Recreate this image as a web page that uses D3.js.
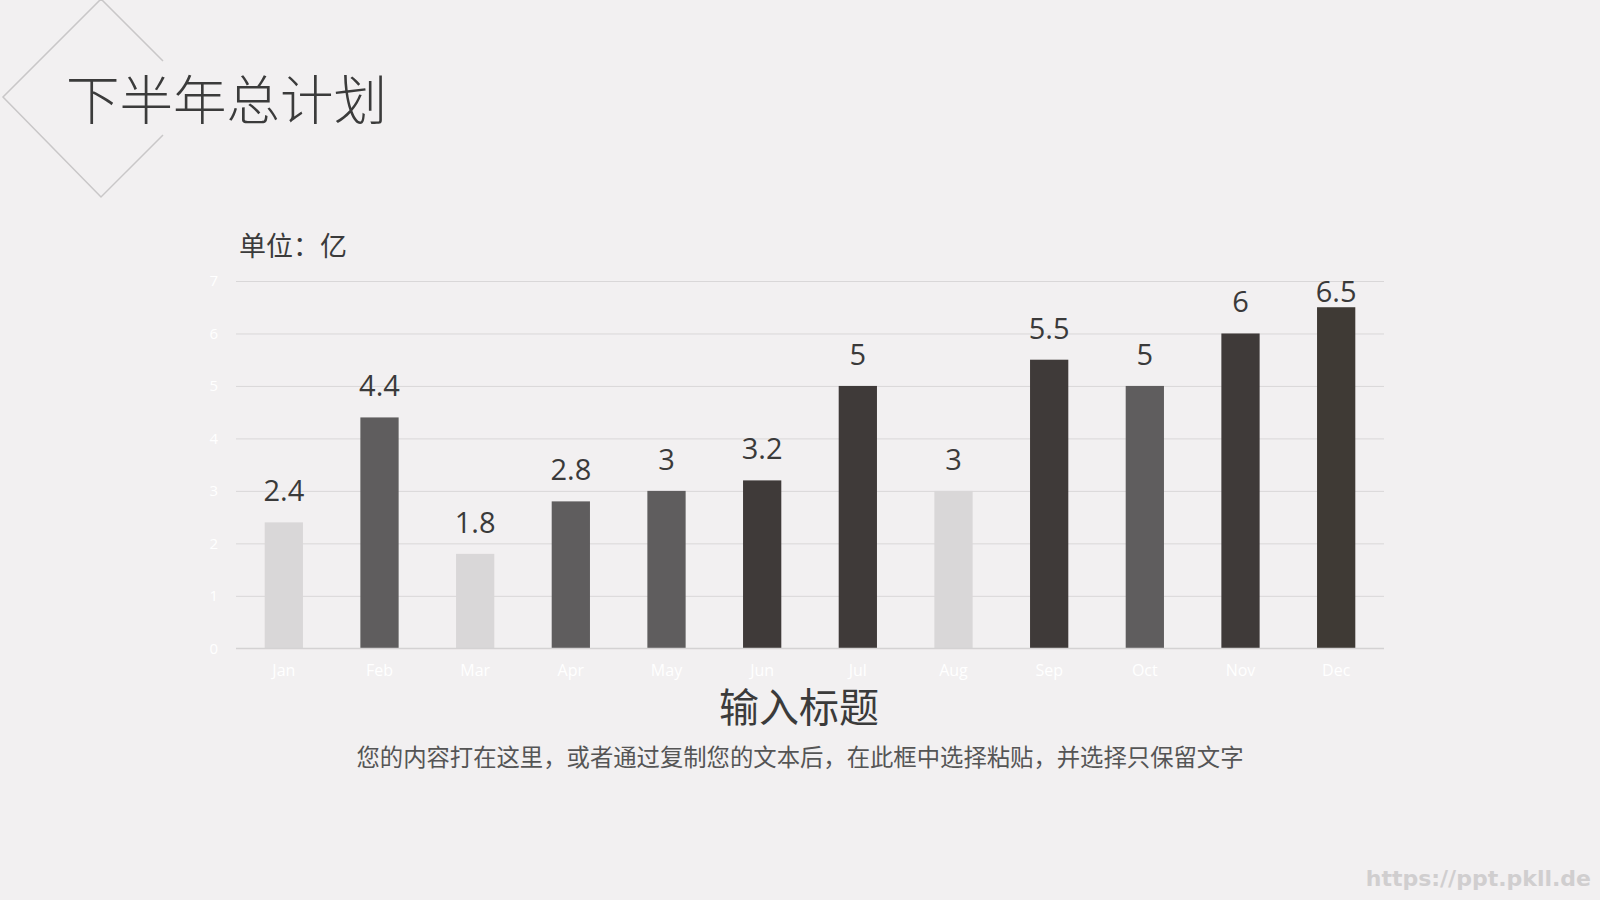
<!DOCTYPE html>
<html>
<head>
<meta charset="utf-8">
<script src="https://cdn.jsdelivr.net/npm/d3@7"></script>
<style>
  html, body { margin: 0; padding: 0; background: #f2f0f1; }
  svg { display: block; }
</style>
</head>
<body>
<svg id="chart" width="1600" height="900"></svg>
<script>
const months = ["Jan","Feb","Mar","Apr","May","Jun","Jul","Aug","Sep","Oct","Nov","Dec"];
const values = [2.4, 4.4, 1.8, 2.8, 3, 3.2, 5, 3, 5.5, 5, 6, 6.5];
const shades = ["light","medium","light","medium","medium","dark","dark","light","dark","medium","dark","darkest"];
const yTicks = [0,1,2,3,4,5,6,7];
const titleText = "下半年总计划";
const unitText = "单位：亿";
const subTitle = "输入标题";
const bodyText = "您的内容打在这里，或者通过复制您的文本后，在此框中选择粘贴，并选择只保留文字";
const watermark = "https://ppt.pkll.de";

const colorMap = { light: "#d9d7d8", medium: "#5f5d5e", dark: "#3f3a39", darkest: "#3f3a35" };
const cjk = "'Noto Sans CJK SC', 'Microsoft YaHei', sans-serif";

const svg = d3.select("#chart");
svg.append("rect").attr("width",1600).attr("height",900).attr("fill","#f2f0f1");

// decorative diamond
svg.append("path")
  .attr("d", d3.line()([[163,61],[101,-1],[3,97],[101,197],[163,135]]))
  .attr("fill","none").attr("stroke","#c9c7c8").attr("stroke-width",1.5);

svg.append("text").text(titleText)
  .attr("x", 66).attr("y", 120)
  .attr("font-family", cjk).attr("font-weight", 300)
  .attr("font-size", 53.5).attr("fill", "#3b3b3b");

const margin = { left: 236, right: 1384, top: 281, bottom: 648.3 };
const x = d3.scaleBand().domain(months).range([margin.left, margin.right]).paddingInner(0.6).paddingOuter(0.3);
const y = d3.scaleLinear().domain([0,7]).range([margin.bottom, margin.top]);

// gridlines
const grid = svg.append("g")
  .attr("transform", `translate(${margin.left},0)`)
  .call(d3.axisLeft(y).tickValues(yTicks).tickSize(-(margin.right - margin.left)).tickFormat(""));
grid.select(".domain").remove();
grid.selectAll(".tick line").attr("stroke", "#d9d7d8").attr("stroke-width", 1);

// y tick labels (white)
const yAxis = svg.append("g")
  .attr("transform", `translate(${margin.left},0)`)
  .call(d3.axisLeft(y).tickValues(yTicks).tickFormat(d3.format("d")).tickSize(0).tickPadding(18));
yAxis.select(".domain").remove();
yAxis.selectAll("text").attr("fill", "#ffffff").attr("font-size", 15)
  .attr("font-family", "'Open Sans', sans-serif");

// bars
svg.append("g").selectAll("rect").data(values).join("rect")
  .attr("x", (d,i) => x(months[i]))
  .attr("width", x.bandwidth())
  .attr("y", d => y(d))
  .attr("height", d => y(0) - y(d))
  .attr("fill", (d,i) => colorMap[shades[i]]);

// baseline
svg.append("line").attr("x1", margin.left).attr("x2", margin.right)
  .attr("y1", y(0)).attr("y2", y(0)).attr("stroke", "#d4d2d3").attr("stroke-width", 1.2);

// value labels (kept inside the plot area, as in the reference)
const labelMinY = y(7) + 21;
svg.append("g").selectAll("text").data(values).join("text")
  .attr("x", (d,i) => x(months[i]) + x.bandwidth()/2)
  .attr("y", d => Math.max(y(d) - 21, labelMinY))
  .attr("text-anchor", "middle")
  .attr("font-family", "'Open Sans', sans-serif")
  .attr("font-size", 29).attr("fill", "#3a3a3a")
  .text(d => d);

// month labels (white)
const xAxis = svg.append("g")
  .attr("transform", `translate(0,${y(0)})`)
  .call(d3.axisBottom(x).tickSize(0).tickPadding(16));
xAxis.select(".domain").remove();
xAxis.selectAll("text").attr("fill", "#ffffff").attr("font-size", 16)
  .attr("font-family", "'Open Sans', sans-serif");

// unit
svg.append("text").text(unitText)
  .attr("x", 239).attr("y", 256)
  .attr("font-family", cjk).attr("font-size", 27).attr("fill", "#3b3b3b");

// subtitle and body
svg.append("text").text(subTitle)
  .attr("x", 799).attr("y", 722).attr("text-anchor", "middle")
  .attr("font-family", cjk).attr("font-size", 40).attr("fill", "#3b3b3b");
svg.append("text").text(bodyText)
  .attr("x", 800).attr("y", 766).attr("text-anchor", "middle")
  .attr("font-family", cjk).attr("font-size", 23.35).attr("fill", "#555555");

// watermark
svg.append("text").text(watermark)
  .attr("x", 1591).attr("y", 886).attr("text-anchor", "end")
  .attr("font-family", "'DejaVu Sans', sans-serif").attr("font-weight", "bold")
  .attr("font-size", 22).attr("fill", "#d0cecf");
</script>
</body>
</html>
